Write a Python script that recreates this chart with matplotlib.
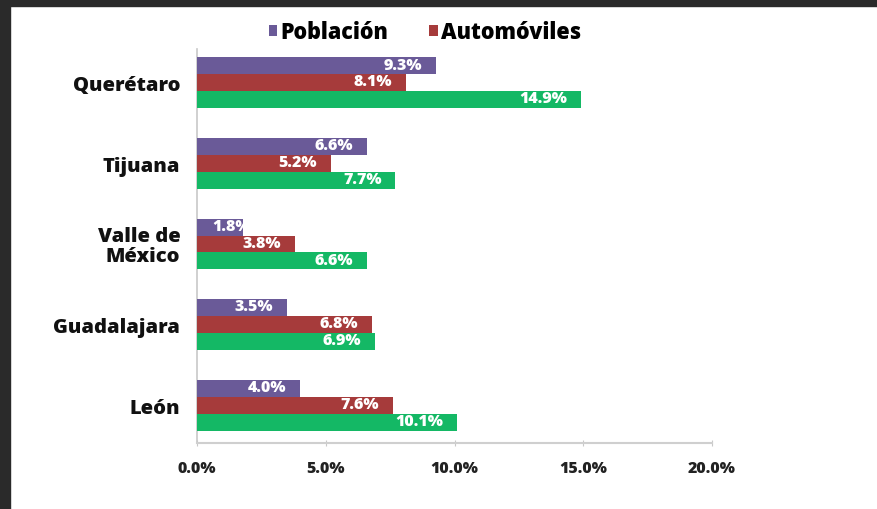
import matplotlib
matplotlib.use("Agg")
import matplotlib.pyplot as plt
from matplotlib.patches import Rectangle
import numpy as np

# Data
ciudades = ["Querétaro", "Tijuana", "Valle de\nMéxico", "Guadalajara", "León"]
poblacion = [9.3, 6.6, 1.8, 3.5, 4.0]
automoviles = [8.1, 5.2, 3.8, 6.8, 7.6]
tercera_serie = [14.9, 7.7, 6.6, 6.9, 10.1]
xticks = [0, 5, 10, 15, 20]
xtick_labels = ["0.0%", "5.0%", "10.0%", "15.0%", "20.0%"]

plt.rcParams['font.family'] = ['Open Sans', 'DejaVu Sans']

fig = plt.figure(figsize=(8.77, 5.10), dpi=100)
fig.patch.set_facecolor("white")

# dark frame on top and left edges
fig.patches.append(Rectangle((0, 1 - 7 / 510), 1, 7 / 510, transform=fig.transFigure,
                             color="#2a2a2a", zorder=10))
fig.patches.append(Rectangle((0, 0), 10 / 877, 1, transform=fig.transFigure,
                             color="#2a2a2a", zorder=10))

ax = fig.add_axes([197 / 877, 1 - 444 / 510, (712 - 197) / 877, (444 - 50) / 510])

c_pob = "#6a5a98"
c_auto = "#a63b3b"
c_terc = "#14b865"

y = np.arange(len(ciudades))
h = 0.21
series = [
    (poblacion, c_pob, -h, "Población"),
    (automoviles, c_auto, 0.0, "Automóviles"),
    (tercera_serie, c_terc, h, None),
]

for vals, col, off, lab in series:
    bars = ax.barh(y + off, vals, height=h, color=col, label=lab, zorder=3)
    for b, v in zip(bars, vals):
        txt = f"{v:.1f}%"
        yc = b.get_y() + b.get_height() / 2
        if v < 3:
            ax.annotate(txt, (0, yc), xytext=(11, 1), textcoords="offset points",
                        ha="left", va="center", color="white", fontsize=11.5,
                        fontweight="heavy", zorder=4)
        else:
            ax.annotate(txt, (v, yc), xytext=(-10, 1), textcoords="offset points",
                        ha="right", va="center", color="white", fontsize=11.5,
                        fontweight="heavy", zorder=4)

ax.set_xlim(0, 20)
ax.set_ylim(4.47, -0.42)
ax.set_yticks(y)
ax.set_yticklabels(ciudades, fontsize=14.5, fontweight="heavy", color="#111111",
                   linespacing=1.0)
ax.tick_params(axis="y", length=0, pad=12)
ax.set_xticks(xticks)
ax.set_xticklabels(xtick_labels, fontsize=11.5, fontweight="heavy", color="#222222")
ax.tick_params(axis="x", direction="inout", length=5, color="#c8c8c8", pad=10)

for s in ["top", "right"]:
    ax.spines[s].set_visible(False)
ax.spines["bottom"].set_color("#cfcfcf")
ax.spines["bottom"].set_linewidth(1.5)
ax.spines["left"].set_color("#c8c8c8")
ax.spines["left"].set_linewidth(1.2)

leg = fig.legend(loc="upper center", bbox_to_anchor=(425 / 877, 1 - 2 / 510), ncol=2,
                 frameon=False, handlelength=0.4, handleheight=0.4,
                 handletextpad=0.15, columnspacing=1.9,
                 prop={"weight": "heavy", "size": 15.5})

fig.savefig("out.png", dpi=100, facecolor="white")
